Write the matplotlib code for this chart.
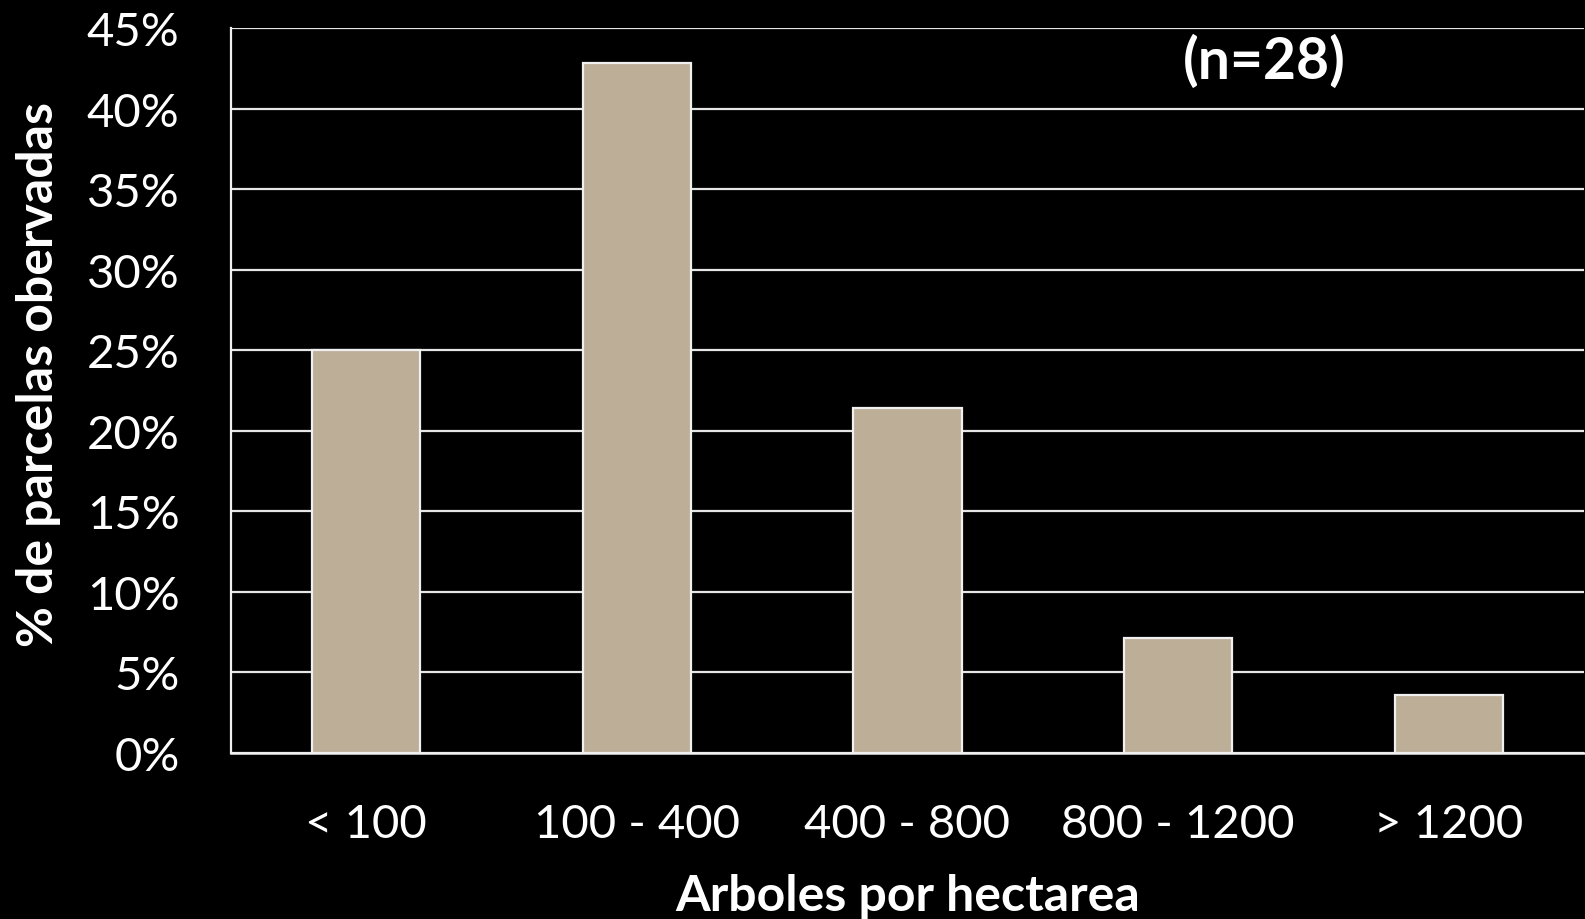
import matplotlib
matplotlib.use("Agg")
import matplotlib.pyplot as plt
from matplotlib.ticker import FuncFormatter

categories = ["< 100", "100 - 400", "400 - 800", "800 - 1200", "> 1200"]
counts = [7, 12, 6, 2, 1]
n_total = 28
percentages = [c / n_total * 100 for c in counts]

yticks = list(range(0, 50, 5))

plt.rcParams['font.family'] = ['Lato', 'DejaVu Sans']

fig = plt.figure(figsize=(15.85, 9.2), dpi=100, facecolor='black')
ax = fig.add_axes([231 / 1585, 1 - 754 / 920, (1584 - 231) / 1585, (754 - 29) / 920])
ax.set_facecolor('black')

x = range(len(categories))
ax.bar(x, percentages, width=0.4, color='#BDAE98', edgecolor='#F0F0F0', linewidth=1.6, zorder=3)

ax.set_xlim(-0.5, len(categories) - 0.5)
ax.set_ylim(0, 45)
ax.set_yticks(yticks)
ax.yaxis.set_major_formatter(FuncFormatter(lambda v, p: f"{int(v)}%"))
ax.set_xticks(list(x))
ax.set_xticklabels(categories)

ax.grid(axis='y', color='#E6E6E6', linewidth=1.6, zorder=0)
ax.tick_params(axis='both', length=0, colors='white', labelsize=34)
ax.tick_params(axis='x', pad=36)
ax.tick_params(axis='y', pad=37)
for lbl in ax.get_yticklabels():
    lbl.set_horizontalalignment('right')

for side in ['top', 'right']:
    ax.spines[side].set_visible(False)
ax.spines['left'].set_color('#F0F0F0')
ax.spines['left'].set_linewidth(1.6)
ax.spines['bottom'].set_color('#F0F0F0')
ax.spines['bottom'].set_linewidth(1.8)

ax.set_xlabel("Arboles por hectarea", color='white', fontsize=36, fontweight='bold', labelpad=20)
ax.set_ylabel("% de parcelas obervadas", color='white', fontsize=36, fontweight='bold',
              va='center', ha='center')
ax.yaxis.set_label_coords(-0.142, 0.524)

ax.text(0.764, 0.955, f"(n={n_total})", transform=ax.transAxes, color='white',
        fontsize=41, fontweight='bold', ha='center', va='center')

fig.savefig("out.png", dpi=100, facecolor='black')
